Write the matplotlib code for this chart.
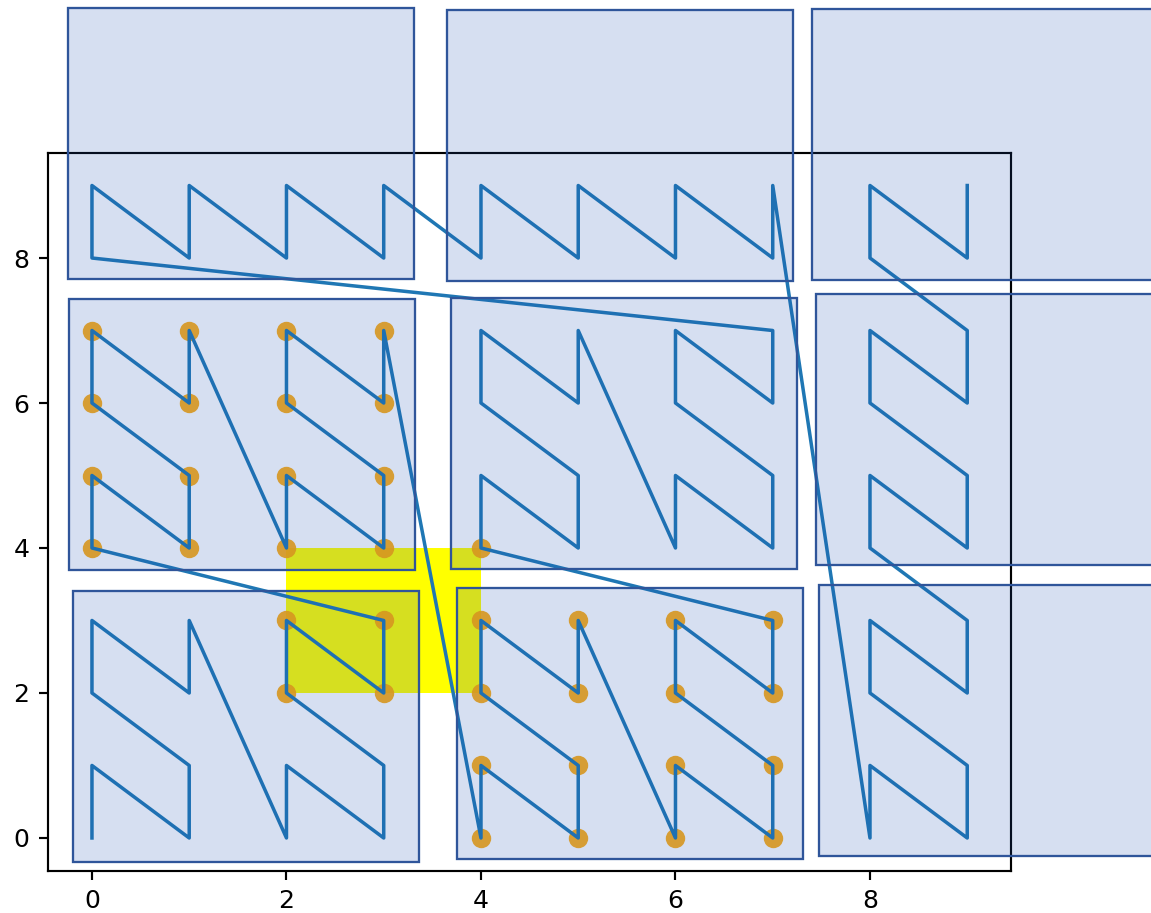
import matplotlib
matplotlib.use("Agg")
import matplotlib.pyplot as plt
from matplotlib.patches import Rectangle

# Z-order (Morton) traversal of a 10 x 10 grid, cells outside the grid skipped
path_x = [0, 0, 1, 1, 0, 0, 1, 1, 2, 2, 3, 3, 2, 2, 3, 3,
          0, 0, 1, 1, 0, 0, 1, 1, 2, 2, 3, 3, 2, 2, 3, 3,
          4, 4, 5, 5, 4, 4, 5, 5, 6, 6, 7, 7, 6, 6, 7, 7,
          4, 4, 5, 5, 4, 4, 5, 5, 6, 6, 7, 7, 6, 6, 7, 7,
          0, 0, 1, 1, 2, 2, 3, 3, 4, 4, 5, 5, 6, 6, 7, 7,
          8, 8, 9, 9, 8, 8, 9, 9, 8, 8, 9, 9, 8, 8, 9, 9,
          8, 8, 9, 9]
path_y = [0, 1, 0, 1, 2, 3, 2, 3, 0, 1, 0, 1, 2, 3, 2, 3,
          4, 5, 4, 5, 6, 7, 6, 7, 4, 5, 4, 5, 6, 7, 6, 7,
          0, 1, 0, 1, 2, 3, 2, 3, 0, 1, 0, 1, 2, 3, 2, 3,
          4, 5, 4, 5, 6, 7, 6, 7, 4, 5, 4, 5, 6, 7, 6, 7,
          8, 9, 8, 9, 8, 9, 8, 9, 8, 9, 8, 9, 8, 9, 8, 9,
          0, 1, 0, 1, 2, 3, 2, 3, 4, 5, 4, 5, 6, 7, 6, 7,
          8, 9, 8, 9]

# query rectangle and the Z-index range it spans (index of (2,2) .. index of (4,4))
query_min = (2, 2)
query_max = (4, 4)
range_start = 12
range_end = 48

# page / block outlines (lower-left corners in data units)
box_x0 = [-0.195, 3.750, 7.479,
          -0.233, 3.692, 7.442,
          -0.244, 3.654, 7.404]
box_y0 = [-0.331, -0.294, -0.244,
          3.692, 3.710, 3.768,
          7.713, 7.679, 7.701]
box_w = 3.558
box_h = 3.738

ticks = [0, 2, 4, 6, 8]

W, H = 1151, 913
DPI = 194
fig = plt.figure(figsize=(W / DPI, H / DPI), dpi=DPI)
ax = fig.add_axes([48.2 / W, (H - 870.6) / H, 962.8 / W, 717.7 / H])

# query window
ax.add_patch(Rectangle(query_min, query_max[0] - query_min[0],
                       query_max[1] - query_min[1],
                       facecolor="yellow", edgecolor="none", zorder=1))

# cells whose Z-index falls inside the query range
hx = path_x[range_start:range_end + 1]
hy = path_y[range_start:range_end + 1]
ax.scatter(hx, hy, s=52, color="orange", alpha=0.9, zorder=2, linewidths=0)

# the Z-curve itself
ax.plot(path_x, path_y, color="#1f77b4", lw=1.3, zorder=3)

# block outlines, translucent, allowed past the axes
for x0, y0 in zip(box_x0, box_y0):
    ax.add_patch(Rectangle((x0, y0), box_w, box_h,
                           facecolor=(28 / 255, 83 / 255, 178 / 255, 0.18),
                           edgecolor="#2f559a", lw=0.85,
                           zorder=4, clip_on=False))

ax.set_xlim(-0.45, 9.45)
ax.set_ylim(-0.45, 9.45)
ax.set_xticks(ticks)
ax.set_yticks(ticks)
ax.tick_params(labelsize=9.3)

fig.savefig("out.png", dpi=DPI)
